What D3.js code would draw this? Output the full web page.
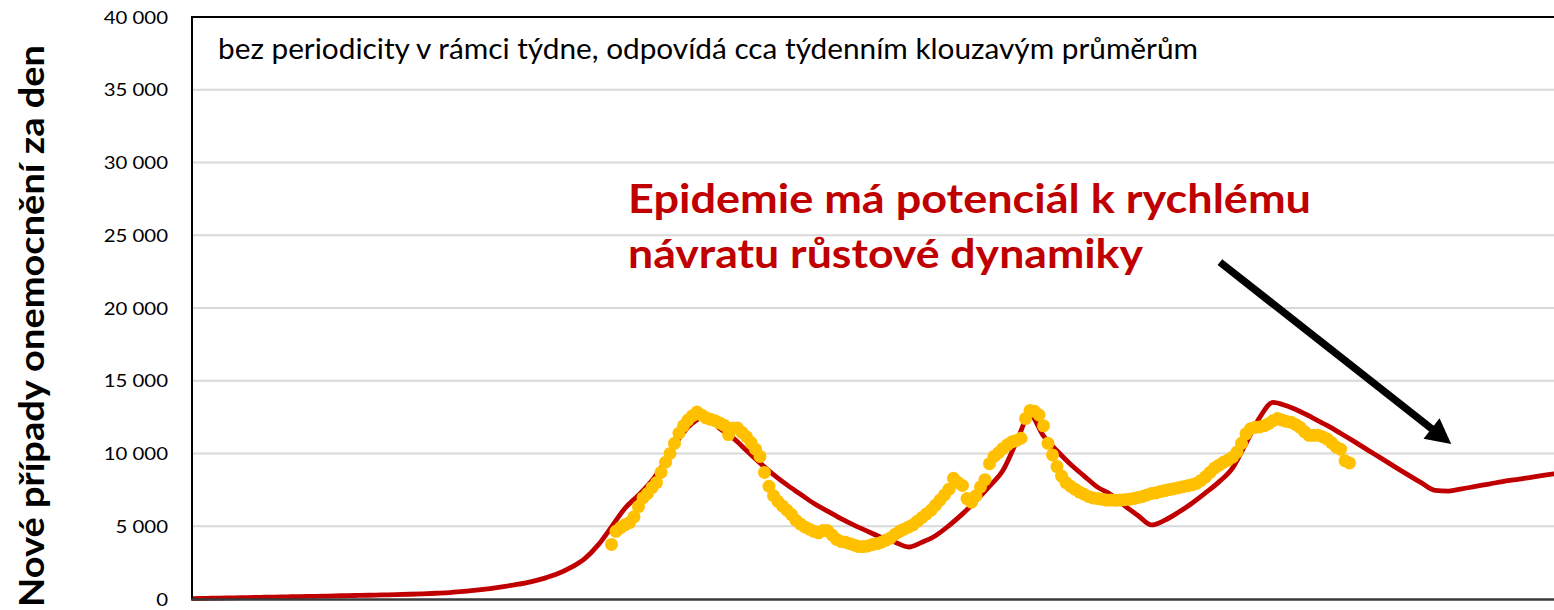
<!DOCTYPE html>
<html>
<head>
<meta charset="utf-8">
<script src="https://cdn.jsdelivr.net/npm/d3@7"></script>
<style>
  html, body { margin: 0; padding: 0; background: #fff; overflow: hidden; }
  text { font-family: Lato, "Open Sans", "DejaVu Sans", sans-serif; }
</style>
</head>
<body>
<svg id="chart" width="1554" height="610"></svg>
<script>
// ---- data -------------------------------------------------------------
const yTickValues = [0, 5000, 10000, 15000, 20000, 25000, 30000, 35000, 40000];

// model curve: daily new cases, one value every 3 days starting at day 0
const modelStartDay = 0;
const modelStepDays = 3;
const modelCases = [
  30, 47, 64, 80, 97, 114, 131, 149, 167, 186,
  204, 222, 240, 258, 280, 300, 325, 355, 395, 440,
  520, 610, 720, 850, 1000, 1180, 1420, 1730, 2170, 2760,
  3700, 4950, 6240, 7130, 8140, 9480, 11030, 12080, 12550, 11720,
  11070, 10210, 9350, 8550, 7840, 7200, 6560, 6040, 5520, 5060,
  4640, 4230, 3900, 3575, 3900, 4350, 5050, 5850, 6750, 7750,
  8850, 10800, 12650, 11210, 10190, 9260, 8460, 7690, 7170, 6420,
  5740, 5090, 5420, 5960, 6580, 7290, 8050, 9000, 10700, 12450,
  13520, 13280, 12890, 12420, 11930, 11390, 10830, 10250, 9680, 9100,
  8530, 7980, 7470, 7420, 7570, 7740, 7900, 8070, 8210, 8350,
  8490, 8620, 8750
];

// observed cases (weekly-smoothed), one value per day starting at day 93
const observedStartDay = 93;
const observedCases = [
  3750, 4650, 4900, 5100, 5250, 5650, 6350, 6950, 7250, 7650,
  8000, 8700, 9400, 10000, 10700, 11400, 11900, 12300, 12600, 12850,
  12650, 12450, 12350, 12250, 12100, 11950, 11300, 11750, 11750, 11450,
  11150, 10750, 10300, 9800, 8700, 7750, 7100, 6700, 6400, 6100,
  5800, 5400, 5150, 4950, 4800, 4650, 4550, 4700, 4700, 4400,
  4100, 3950, 3900, 3800, 3700, 3600, 3600, 3650, 3750, 3800,
  3900, 4050, 4200, 4450, 4650, 4800, 4950, 5100, 5350, 5600,
  5850, 6100, 6450, 6800, 7150, 7550, 8300, 8000, 7800, 6900,
  6650, 7100, 7700, 8200, 9300, 9800, 10050, 10350, 10600, 10800,
  10900, 11050, 12400, 12950, 12900, 12650, 11900, 10700, 9900, 9100,
  8450, 8000, 7750, 7550, 7350, 7200, 7050, 6950, 6900, 6850,
  6800, 6800, 6780, 6800, 6820, 6850, 6900, 6980, 7050, 7150,
  7250, 7300, 7380, 7450, 7520, 7580, 7650, 7720, 7780, 7850,
  7950, 8150, 8400, 8700, 9000, 9200, 9400, 9550, 9750, 10100,
  10700, 11350, 11700, 11800, 11820, 11900, 12050, 12250, 12400, 12300,
  12200, 12150, 12000, 11800, 11500, 11250, 11250, 11250, 11150, 11000,
  10750, 10450, 10300, 9500, 9350
];

const subtitleText = "bez periodicity v rámci týdne, odpovídá cca týdenním klouzavým průměrům";
const calloutLines = ["Epidemie má potenciál k rychlému", "návratu růstové dynamiky"];
const yTitleText = "Nové případy onemocnění za den";

// callout arrow, in data units [day, cases]
const arrowFrom = [228.2, 23150];
const arrowTo = [279.6, 10650];

// ---- layout -----------------------------------------------------------
const W = 1554, H = 610;
const plot = { left: 192, top: 17, bottom: 599, right: 1556.5 };

const svg = d3.select("#chart");

const x = d3.scaleLinear().domain([0, 303]).range([193, plot.right]);
const y = d3.scaleLinear().domain([0, 40000]).range([plot.bottom, plot.top]);

const modelData = modelCases.map((v, i) => ({ day: modelStartDay + i * modelStepDays, v }));
const observedData = observedCases.map((v, i) => ({ day: observedStartDay + i, v }));

// clip to plot region
svg.append("defs").append("clipPath").attr("id", "plotClip")
  .append("rect")
  .attr("x", plot.left).attr("y", plot.top - 4)
  .attr("width", W - plot.left + 4).attr("height", plot.bottom - plot.top + 8);

// horizontal gridlines
svg.append("g")
  .selectAll("line")
  .data(yTickValues.filter(t => t > 0 && t < 40000))
  .join("line")
  .attr("x1", plot.left).attr("x2", W)
  .attr("y1", d => y(d)).attr("y2", d => y(d))
  .attr("stroke", "#d9d9d9")
  .attr("stroke-width", 2);

// y axis tick labels
const spaceFormat = d3.formatLocale({ decimal: ",", thousands: " ", grouping: [3], currency: ["", ""] }).format(",d");
const yAxis = d3.axisLeft(y)
  .tickValues(yTickValues)
  .tickSize(0)
  .tickPadding(24)
  .tickFormat(spaceFormat);

const yAxisG = svg.append("g")
  .attr("transform", `translate(${plot.left},0)`)
  .call(yAxis);
yAxisG.select(".domain").remove();
yAxisG.selectAll("text")
  .attr("fill", "#000")
  .style("font-size", "17px")
  .attr("dy", "0.36em")
  .each(function () {
    const w = this.getComputedTextLength();
    d3.select(this).attr("textLength", w * 1.2).attr("lengthAdjust", "spacingAndGlyphs");
  });

// model line
const line = d3.line()
  .x(d => x(d.day))
  .y(d => y(d.v))
  .curve(d3.curveMonotoneX);

svg.append("path")
  .datum(modelData)
  .attr("clip-path", "url(#plotClip)")
  .attr("d", line)
  .attr("fill", "none")
  .attr("stroke", "#c00000")
  .attr("stroke-width", 4.8)
  .attr("stroke-linejoin", "round")
  .attr("stroke-linecap", "round");

// observed points
svg.append("g")
  .selectAll("circle")
  .data(observedData)
  .join("circle")
  .attr("cx", d => x(d.day))
  .attr("cy", d => y(d.v))
  .attr("r", 6.5)
  .attr("fill", "#ffc000");

// plot frame: left, top, bottom
svg.append("line")
  .attr("x1", plot.left).attr("x2", plot.left)
  .attr("y1", plot.top).attr("y2", plot.bottom)
  .attr("stroke", "#000").attr("stroke-width", 2);
svg.append("line")
  .attr("x1", plot.left - 1).attr("x2", W)
  .attr("y1", plot.top).attr("y2", plot.top)
  .attr("stroke", "#000").attr("stroke-width", 2);
svg.append("line")
  .attr("x1", plot.left - 1).attr("x2", W)
  .attr("y1", plot.bottom + 0.5).attr("y2", plot.bottom + 0.5)
  .attr("stroke", "#3a3a3a").attr("stroke-width", 2.5);

// subtitle inside plot
svg.append("text")
  .attr("x", 218).attr("y", 58.5)
  .attr("fill", "#000")
  .style("font-size", "29px")
  .attr("textLength", 980)
  .attr("lengthAdjust", "spacingAndGlyphs")
  .text(subtitleText);

// red callout
const calloutWidths = [683, 515];
svg.append("g")
  .selectAll("text")
  .data(calloutLines)
  .join("text")
  .attr("x", 628)
  .attr("y", (d, i) => 213 + i * 55)
  .attr("fill", "#c00000")
  .style("font-size", "40px")
  .style("font-weight", "bold")
  .attr("textLength", (d, i) => calloutWidths[i])
  .attr("lengthAdjust", "spacingAndGlyphs")
  .text(d => d);

// arrow pointing to the model's late upturn
const ax1 = x(arrowFrom[0]), ay1 = y(arrowFrom[1]);
const ax2 = x(arrowTo[0]), ay2 = y(arrowTo[1]);
const ang = Math.atan2(ay2 - ay1, ax2 - ax1);
const headLen = 25, headHalf = 13;
const bx = ax2 - headLen * Math.cos(ang), by = ay2 - headLen * Math.sin(ang);
svg.append("line")
  .attr("x1", ax1).attr("y1", ay1)
  .attr("x2", bx + 2 * Math.cos(ang)).attr("y2", by + 2 * Math.sin(ang))
  .attr("stroke", "#000").attr("stroke-width", 7.5);
svg.append("path")
  .attr("d", d3.line()([
    [ax2, ay2],
    [bx + headHalf * Math.sin(ang), by - headHalf * Math.cos(ang)],
    [bx - headHalf * Math.sin(ang), by + headHalf * Math.cos(ang)]
  ]) + "Z")
  .attr("fill", "#000");

// y axis title
svg.append("text")
  .attr("transform", "translate(44,326) rotate(-90)")
  .attr("text-anchor", "middle")
  .attr("fill", "#000")
  .style("font-size", "35px")
  .style("font-weight", "bold")
  .attr("textLength", 562)
  .attr("lengthAdjust", "spacingAndGlyphs")
  .text(yTitleText);
</script>
</body>
</html>
